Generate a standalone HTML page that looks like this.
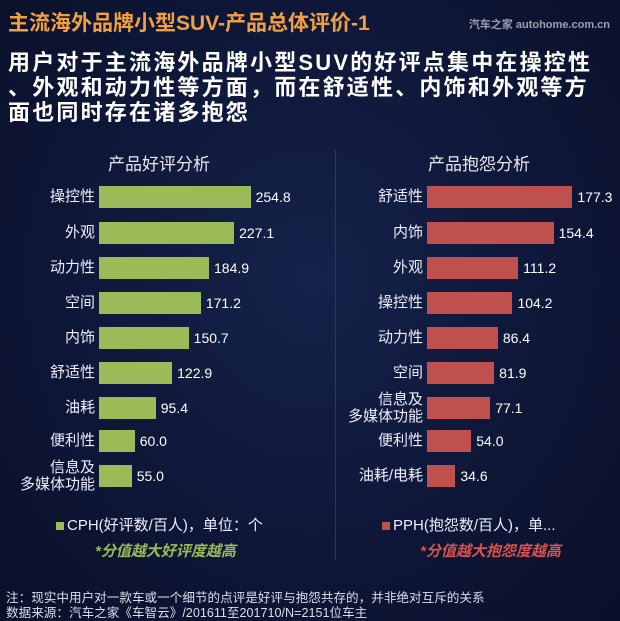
<!DOCTYPE html>
<html><head><meta charset="utf-8"><style>
*{margin:0;padding:0;box-sizing:border-box}
body{width:620px;height:620px;overflow:hidden;background:radial-gradient(ellipse at 50% 45%,#16224a 0%,#0e1738 55%,#0a1029 100%);font-family:"Liberation Sans","Noto Sans CJK SC",sans-serif;position:relative;color:#fff}
.a{position:absolute;white-space:nowrap}
.t{left:8px;top:7px;font-size:21px;font-weight:bold;color:#f0a040;letter-spacing:0px}
.wm{right:10px;top:16px;font-size:11px;color:#9aa0b0;font-weight:bold}
.sub{left:8px;top:50px;font-size:22px;font-weight:bold;line-height:25px;color:#fff;letter-spacing:2.2px}
.h{font-size:17px;color:#e8e8f0;top:150px}
.lb{font-size:15px;color:#eef;text-align:right;width:90px;line-height:17px}
.v{font-size:14px;color:#fff}
.bar{position:absolute;height:22px}
.g{background:#9bbb59}.r{background:#c0504d}
.lg{font-size:15px;color:#eef;top:514px}
.note{font-size:15px;font-style:italic;font-weight:bold;top:540px}
.ft{left:6px;font-size:12.6px;color:#dde}
</style></head><body>
<div class="a t">主流海外品牌小型SUV-产品总体评价-1</div>
<div class="a wm">汽车之家 autohome.com.cn</div>
<div class="a sub">用户对于主流海外品牌小型SUV的好评点集中在操控性<br>、外观和动力性等方面，而在舒适性、内饰和外观等方<br>面也同时存在诸多抱怨</div>
<div class="a h" style="left:108px">产品好评分析</div>
<div class="a h" style="left:428px">产品抱怨分析</div>
<div class="a" style="left:335px;top:150px;width:1px;height:410px;background:#2c3660"></div>
<div id="L"></div><div id="R"></div>
<div class="a lg" style="left:56px"><span style="display:inline-block;width:8px;height:8px;background:#9bbb59;margin-right:3px"></span>CPH(好评数/百人)，单位：个</div>
<div class="a note" style="left:95px;color:#9bbb59">*分值越大好评度越高</div>
<div class="a lg" style="left:382px"><span style="display:inline-block;width:8px;height:8px;background:#c0504d;margin-right:3px"></span>PPH(抱怨数/百人)，单...</div>
<div class="a note" style="left:420px;color:#d9534f">*分值越大抱怨度越高</div>
<div class="a ft" style="top:587px">注：现实中用户对一款车或一个细节的点评是好评与抱怨共存的，并非绝对互斥的关系</div>
<div class="a ft" style="top:602px">数据来源：汽车之家《车智云》/201611至201710/N=2151位车主</div>
<script>
var ys=[197,233,268,303,338,373,408,441,476];
var L=[["操控性",254.8],["外观",227.1],["动力性",184.9],["空间",171.2],["内饰",150.7],["舒适性",122.9],["油耗",95.4],["便利性",60.0],["信息及<br>多媒体功能",55.0]];
var R=[["舒适性",177.3],["内饰",154.4],["外观",111.2],["操控性",104.2],["动力性",86.4],["空间",81.9],["信息及<br>多媒体功能",77.1],["便利性",54.0],["油耗/电耗",34.6]];
function draw(d,x0,k,cls,lx){var h="";d.forEach(function(r,i){var y=ys[i],w=r[1]*k,two=r[0].indexOf("<br>")>=0;
h+='<div class="a lb" style="left:'+lx+'px;top:'+(y-(two?17:9))+'px">'+r[0]+'</div>';
h+='<div class="bar '+cls+'" style="left:'+x0+'px;top:'+(y-11)+'px;width:'+w+'px"></div>';
h+='<div class="a v" style="left:'+(x0+w+5)+'px;top:'+(y-8)+'px">'+r[1].toFixed(1)+'</div>';});return h;}
document.getElementById("L").innerHTML=draw(L,99,0.595,"g",5);
document.getElementById("R").innerHTML=draw(R,427,0.82,"r",333);
</script>
</body></html>
